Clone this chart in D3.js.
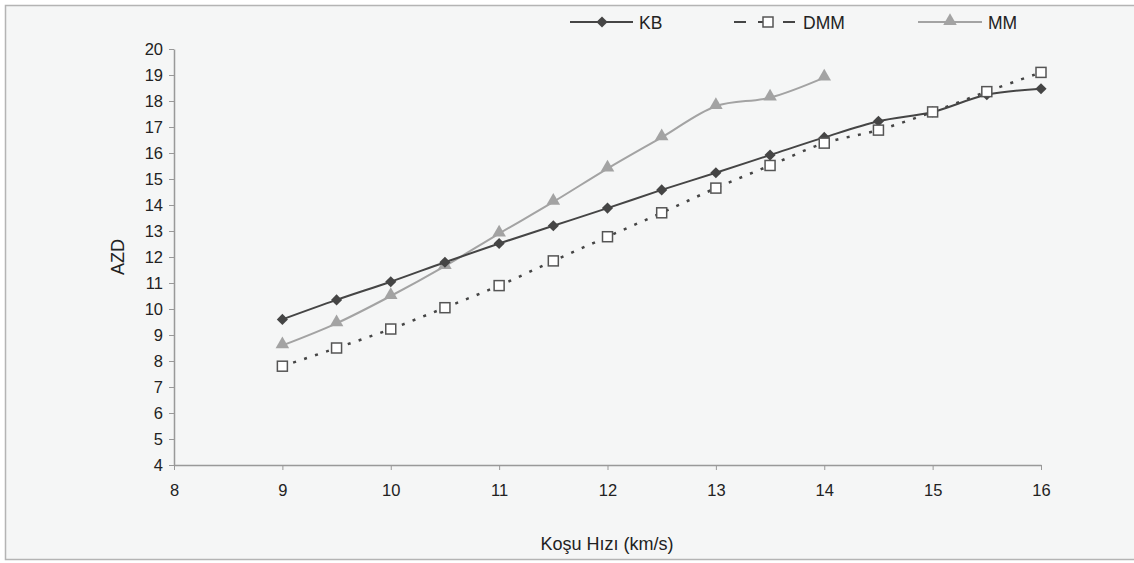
<!DOCTYPE html>
<html lang="tr">
<head>
<meta charset="utf-8">
<title>AZD - Koşu Hızı</title>
<script src="https://cdn.jsdelivr.net/npm/d3@7"></script>
<style>
  body { margin: 0; background: #ffffff; }
  text { font-family: "Liberation Sans", Arial, sans-serif; fill: #222; }
</style>
</head>
<body>
<script>
// data
var speeds = [9, 9.5, 10, 10.5, 11, 11.5, 12, 12.5, 13, 13.5, 14, 14.5, 15, 15.5, 16];
var kb  = [9.6, 10.35, 11.05, 11.8, 12.52, 13.2, 13.88, 14.58, 15.24, 15.92, 16.6, 17.22, 17.58, 18.24, 18.47];
var dmm = [7.8, 8.5, 9.23, 10.05, 10.9, 11.85, 12.78, 13.7, 14.65, 15.52, 16.38, 16.88, 17.58, 18.36, 19.1];
var mm  = [8.6, 9.45, 10.5, 11.65, 12.9, 14.12, 15.4, 16.6, 17.8, 18.13, 18.9];
var xTicks = [8, 9, 10, 11, 12, 13, 14, 15, 16];
var yTicks = d3.range(4, 21);

var W = 1134, H = 563;
var svg = d3.select("body").append("svg").attr("width", W).attr("height", H);

// outer frame
svg.append("rect").attr("x", 5.5).attr("y", 5.5).attr("width", W).attr("height", 554)
  .attr("fill", "#f5f6f6").attr("stroke", "#b4b4b4").attr("stroke-width", 1.5);

var x = d3.scaleLinear().domain([8, 16]).range([174, 1041]);
var y = d3.scaleLinear().domain([4, 20]).range([465, 49]);

// axes
var gx = svg.append("g").attr("transform", "translate(0," + y(4) + ")")
  .call(d3.axisBottom(x).tickValues(xTicks).tickSize(5).tickSizeOuter(0).tickPadding(12));
var gy = svg.append("g").attr("transform", "translate(" + x(8) + ",0)")
  .call(d3.axisLeft(y).tickValues(yTicks).tickSize(5).tickSizeOuter(0).tickPadding(6));
[gx, gy].forEach(function(g) {
  g.select(".domain").attr("stroke", "#999").attr("stroke-width", 1.5);
  g.selectAll(".tick line").attr("stroke", "#999");
  g.selectAll(".tick text").attr("font-size", 16.5).attr("fill", "#222")
    .style("font-family", "Liberation Sans, Arial, sans-serif");
});
gx.selectAll(".tick text").attr("dy", "0.85em");

svg.append("text").attr("x", 607).attr("y", 550).attr("text-anchor", "middle")
  .attr("font-size", 18).text("Koşu Hızı (km/s)");
svg.append("text").attr("transform", "translate(124,257) rotate(-90)")
  .attr("text-anchor", "middle").attr("font-size", 18).text("AZD");

var line = d3.line().x(function(d) { return x(d[0]); }).y(function(d) { return y(d[1]); })
  .curve(d3.curveCatmullRom.alpha(0.5));

function pairs(vals) { return vals.map(function(v, i) { return [speeds[i], v]; }); }

// diamond = square turned 45 degrees
var diamond = d3.symbol().type(d3.symbolSquare).size(62);
var triangle = d3.symbol().type(d3.symbolTriangle).size(80);

// MM
var mmData = pairs(mm);
svg.append("path").datum(mmData).attr("d", line).attr("fill", "none")
  .attr("stroke", "#a3a3a3").attr("stroke-width", 2);
svg.selectAll(".mm").data(mmData).enter().append("path").attr("class", "mm")
  .attr("d", triangle).attr("fill", "#a3a3a3")
  .attr("transform", function(d) { return "translate(" + x(d[0]) + "," + (y(d[1]) - 1) + ")"; });

// KB
var kbData = pairs(kb);
svg.append("path").datum(kbData).attr("d", line).attr("fill", "none")
  .attr("stroke", "#454545").attr("stroke-width", 2);
svg.selectAll(".kb").data(kbData).enter().append("path").attr("class", "kb")
  .attr("d", diamond).attr("fill", "#454545")
  .attr("transform", function(d) { return "translate(" + x(d[0]) + "," + y(d[1]) + ") rotate(45)"; });

// DMM
var dmmData = pairs(dmm);
svg.append("path").datum(dmmData).attr("d", line).attr("fill", "none")
  .attr("stroke", "#454545").attr("stroke-width", 2.5).attr("stroke-dasharray", "3,8.5")
  .attr("stroke-linecap", "butt");
svg.selectAll(".dmm").data(dmmData).enter().append("rect").attr("class", "dmm")
  .attr("x", function(d) { return x(d[0]) - 5; }).attr("y", function(d) { return y(d[1]) - 5; })
  .attr("width", 10).attr("height", 10).attr("fill", "#ffffff")
  .attr("stroke", "#555").attr("stroke-width", 1.5);

// legend
var lg = svg.append("g").attr("transform", "translate(0,22)");
lg.append("line").attr("x1", 570).attr("x2", 633).attr("stroke", "#454545").attr("stroke-width", 2);
lg.append("path").attr("d", diamond).attr("fill", "#454545").attr("transform", "translate(602,0) rotate(45)");
lg.append("text").attr("x", 639).attr("y", 6.5).attr("font-size", 17.5).text("KB");

lg.append("line").attr("x1", 734).attr("x2", 746).attr("stroke", "#454545").attr("stroke-width", 2);
lg.append("line").attr("x1", 758).attr("x2", 763).attr("stroke", "#454545").attr("stroke-width", 2);
lg.append("line").attr("x1", 783).attr("x2", 795).attr("stroke", "#454545").attr("stroke-width", 2);
lg.append("rect").attr("x", 763).attr("y", -5).attr("width", 10).attr("height", 10)
  .attr("fill", "#fff").attr("stroke", "#555").attr("stroke-width", 1.5);
lg.append("text").attr("x", 803).attr("y", 6.5).attr("font-size", 17.5).text("DMM");

lg.append("line").attr("x1", 918).attr("x2", 982).attr("stroke", "#a3a3a3").attr("stroke-width", 2);
lg.append("path").attr("d", triangle).attr("fill", "#a3a3a3").attr("transform", "translate(950,-1)");
lg.append("text").attr("x", 988).attr("y", 6.5).attr("font-size", 17.5).text("MM");
</script>
</body>
</html>
